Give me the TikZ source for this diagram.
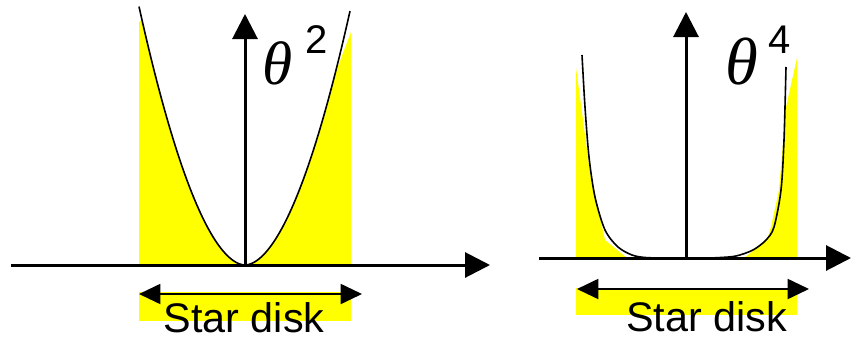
\documentclass[tikz,border=0pt]{standalone}
\usepackage{fontspec}
\setmainfont{Liberation Sans}
\newfontfamily\thetafont{Liberation Serif}
\usetikzlibrary{arrows.meta}
\definecolor{starY}{RGB}{255,255,0}
\begin{document}
\begin{tikzpicture}[x=0.75pt,y=-0.75pt,
  axis/.style={line width=2.25pt, -{Triangle[length=18.75pt,width=18.75pt]}},
  curve/.style={line width=1.2pt, line join=round},
  disk/.style={line width=1.4pt, {Triangle[length=16pt,width=15pt]}-{Triangle[length=16pt,width=15pt]}},
  lbl/.style={font=\fontsize{31}{31}\selectfont, inner sep=0pt, anchor=base},
  supnum/.style={font=\fontsize{30pt}{32pt}\selectfont, inner sep=0pt, anchor=base},
  thl/.style={inner sep=0pt, anchor=base},
  ylw/.style={fill=starY, draw=none}]
\useasboundingbox (0,0) rectangle (852,339);

% ---------- left panel : theta^2 ----------
\coordinate (oL) at (245,265);
\coordinate (xL0) at (11,265);
\coordinate (xL1) at (490,265);
\coordinate (yL1) at (245,14);
\coordinate (dL0) at (139,294);
\coordinate (dL1) at (362,294);

\fill[ylw] (139,265) -- (139,22) --
  plot[domain=-103:0, samples=50] ({245+\x},{265-0.0463*exp(1.85*ln(abs(\x)+0.001))}) -- cycle;
\fill[ylw] (351,265) -- (351,32) --
  plot[domain=90:0, samples=50] ({245+\x},{265-0.0463*exp(1.85*ln(abs(\x)+0.001))}) -- cycle;
\fill[ylw] (139,292) rectangle (351,321);

\draw[curve] plot[domain=-106:105, samples=101] ({245+\x},{265-0.0463*exp(1.85*ln(abs(\x)+0.001))});

\draw[axis] (xL0) -- (xL1);
\draw[axis] (oL) -- (yL1);
\draw[disk] (dL0) -- (dL1);

\node[lbl] (sdL) at (244,332) {Star disk};
\node[thl, font=\thetafont\itshape\fontsize{46}{46}\selectfont] (thL) at (278,84) {θ};
\node[supnum] (eL) at (316.5,53) {2};

% ---------- right panel : theta^4 ----------
\coordinate (oR) at (686,258);
\coordinate (xR0) at (539,258);
\coordinate (xR1) at (851,258);
\coordinate (yR1) at (686,12);
\coordinate (dR0) at (577,289);
\coordinate (dR1) at (809,289);

\fill[ylw] (576,258) -- (576,68) -- (583,120) -- (589,165) -- (596,200) -- (601,222) -- (605,240) -- (627,258) -- cycle;
\fill[ylw] (797,258) -- (797,58) -- (786,107) -- (779,190) -- (771,227) -- (767,240) -- (744,258) -- cycle;
\fill[ylw] (576,288) rectangle (797,315);

\draw[curve] plot[smooth, tension=0.5] coordinates {
  (582,55) (585,107) (589,157) (595,197) (605,230) (618,247) (632,255) (645,257.5) (665,258)
  (686,258) (705,258) (719,257.6) (736,256) (753,250) (766,240) (774,227) (781,190) (784,140) (786,67)};

\draw[axis] (xR0) -- (xR1);
\draw[axis] (oR) -- (yR1);
\draw[disk] (dR0) -- (dR1);

\node[lbl] (sdR) at (706.5,331) {Star disk};
\node[thl, font=\thetafont\itshape\fontsize{50}{50}\selectfont] (thR) at (742,84) {θ};
\node[supnum] (eR) at (779.5,53) {4};
\end{tikzpicture}
\end{document}
